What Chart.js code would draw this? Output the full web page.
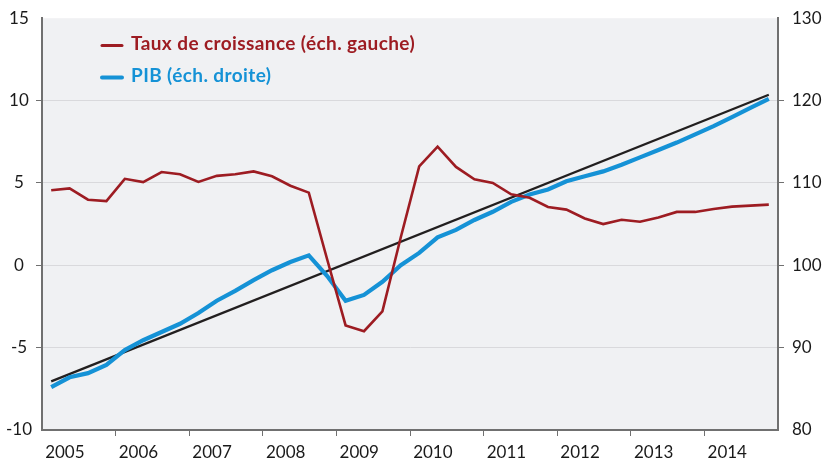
<!DOCTYPE html>
<html lang="fr">
<head>
<meta charset="utf-8">
<script src="https://cdn.jsdelivr.net/npm/chart.js@4.4.0/dist/chart.umd.min.js"></script>
<style>
  html, body { margin: 0; padding: 0; background: #fff; }
  #cadre { width: 828px; height: 462px; }
</style>
</head>
<body>
<div id="cadre"><canvas id="graphiquePib"></canvas></div>
<script>
// données trimestrielles 2005T1 - 2014T4
const annees = ['2005', '2006', '2007', '2008', '2009', '2010', '2011', '2012', '2013', '2014'];
const libelles = ['Taux de croissance (éch. gauche)', 'PIB (éch. droite)'];

const tauxCroissance = [
  4.55, 4.67, 3.98, 3.90, 5.25, 5.05, 5.66, 5.53, 5.06, 5.43,
  5.53, 5.70, 5.40, 4.83, 4.41, 0.35, -3.65, -4.0, -2.8, 1.7,
  6.0, 7.2, 5.97, 5.22, 5.0, 4.31, 4.1, 3.54, 3.38, 2.84,
  2.5, 2.76, 2.64, 2.9, 3.24, 3.24, 3.42, 3.56, 3.62, 3.68
];

const pib = [
  85.2, 86.4, 86.9, 87.9, 89.7, 90.9, 91.9, 92.9, 94.2, 95.7,
  96.9, 98.2, 99.4, 100.4, 101.2, 98.7, 95.7, 96.4, 98.0, 100.0,
  101.5, 103.4, 104.3, 105.5, 106.5, 107.7, 108.6, 109.2, 110.2, 110.8,
  111.4, 112.2, 113.1, 114.0, 114.9, 115.9, 116.9, 118.0, 119.1, 120.2
];

// tendance linéaire du PIB : premier et dernier trimestre
const tendancePib = [85.9, 120.7];

const rouge = '#9d1c22';
const bleu = '#1592d6';
const noir = '#221f1f';
const gris = '#707070';

Chart.defaults.font.family = 'Lato, "Open Sans", sans-serif';
Chart.defaults.font.size = 17;
Chart.defaults.color = '#1a1a1a';

const aTrimestre = (v, i) => ({ x: i + 0.5, y: v });

// décalage des années : juste à droite de la graduation
const decalage = 0.17;
const estLibelle = v => Math.abs((v % 4) - decalage) < 0.01;

const fondGris = {
  id: 'fondGris',
  beforeDraw(chart) {
    const { ctx, chartArea: a } = chart;
    ctx.save();
    ctx.fillStyle = '#f0f1f3';
    ctx.fillRect(a.left, a.top, a.right - a.left, a.bottom - a.top);
    ctx.restore();
  }
};

const legende = {
  id: 'legende',
  afterDraw(chart) {
    const ctx = chart.ctx;
    ctx.save();
    ctx.font = 'bold 19px Lato, "Open Sans", sans-serif';
    ctx.letterSpacing = '0.4px';
    ctx.textBaseline = 'alphabetic';
    ctx.lineCap = 'round';
    [0, 1].forEach(i => {
      const ds = chart.data.datasets[i];
      const yLigne = i === 0 ? 45.5 : 77.5;
      const yTexte = i === 0 ? 50 : 82;
      ctx.strokeStyle = ds.borderColor;
      ctx.lineWidth = i === 0 ? 3 : 4;
      ctx.beginPath();
      ctx.moveTo(102, yLigne);
      ctx.lineTo(122, yLigne);
      ctx.stroke();
      ctx.fillStyle = ds.borderColor;
      ctx.fillText(ds.label, 131, yTexte);
    });
    ctx.restore();
  }
};

new Chart(document.getElementById('graphiquePib').getContext('2d'), {
  type: 'line',
  data: {
    datasets: [
      {
        label: libelles[0],
        data: tauxCroissance.map(aTrimestre),
        borderColor: rouge,
        borderWidth: 2.6,
        yAxisID: 'yGauche'
      },
      {
        label: libelles[1],
        data: pib.map(aTrimestre),
        borderColor: bleu,
        borderWidth: 4.2,
        yAxisID: 'yDroite'
      },
      {
        label: 'Tendance',
        data: [{ x: 0.5, y: tendancePib[0] }, { x: pib.length - 0.5, y: tendancePib[1] }],
        borderColor: noir,
        borderWidth: 2.3,
        yAxisID: 'yDroite'
      }
    ]
  },
  options: {
    responsive: true,
    maintainAspectRatio: false,
    animation: false,
    layout: { padding: { top: 16, left: 0, right: 0, bottom: 0 } },
    elements: {
      point: { radius: 0, hoverRadius: 0 },
      line: { tension: 0, borderCapStyle: 'butt', borderJoinStyle: 'miter' }
    },
    plugins: {
      legend: { display: false },
      tooltip: { enabled: false }
    },
    scales: {
      x: {
        type: 'linear',
        min: 0,
        max: annees.length * 4,
        afterFit: s => { s.height = 32; },
        afterBuildTicks: s => {
          const t = [];
          annees.forEach((a, k) => {
            t.push({ value: k * 4 });
            t.push({ value: k * 4 + decalage });
          });
          s.ticks = t;
        },
        border: { color: gris, width: 2 },
        grid: {
          drawOnChartArea: false,
          tickLength: 6,
          tickColor: c => (c.tick.value % 4 === 0 && c.tick.value > 0) ? gris : 'transparent'
        },
        ticks: {
          autoSkip: false,
          maxRotation: 0,
          align: 'start',
          padding: 6,
          callback: v => (estLibelle(v) ? annees[Math.round((v - decalage) / 4)] : '')
        }
      },
      yGauche: {
        position: 'left',
        min: -10,
        max: 15,
        afterFit: s => { s.width = 42; },
        border: { color: gris, width: 2 },
        grid: {
          color: c => (c.tick.value === 15 || c.tick.value === -10) ? 'transparent' : '#d9d9dc',
          lineWidth: 1,
          tickLength: 6,
          tickColor: c => (c.tick.value === 15 || c.tick.value === -10) ? 'transparent' : gris
        },
        ticks: { stepSize: 5, padding: 4, crossAlign: 'center' }
      },
      yDroite: {
        position: 'right',
        min: 80,
        max: 130,
        afterFit: s => { s.width = 50; },
        border: { color: gris, width: 2 },
        grid: {
          drawOnChartArea: false,
          tickLength: 6,
          tickColor: c => (c.tick.value === 130 || c.tick.value === 80) ? 'transparent' : gris
        },
        ticks: { stepSize: 10, padding: 8 }
      }
    }
  },
  plugins: [fondGris, legende]
});
</script>
</body>
</html>
